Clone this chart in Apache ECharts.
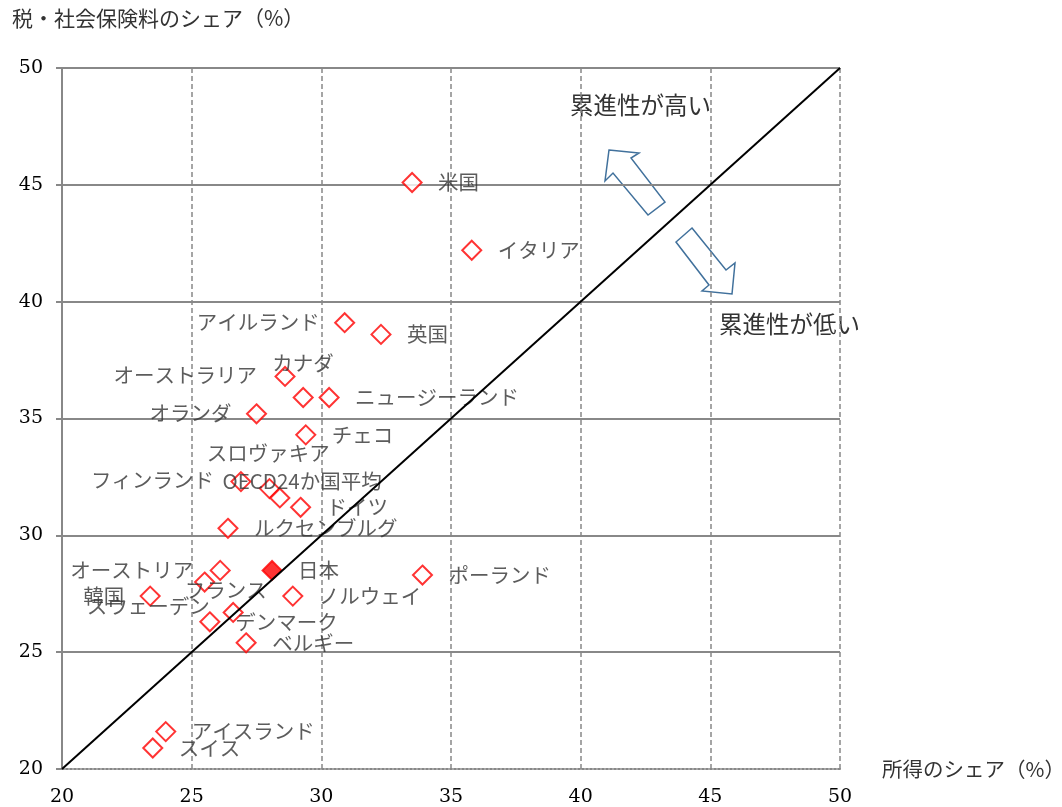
<!DOCTYPE html>
<html>
<head>
<meta charset="utf-8">
<script src="https://cdn.jsdelivr.net/npm/echarts@6/dist/echarts.min.js"></script>
<style>
  html, body { margin: 0; padding: 0; background: #fff; }
  #main { width: 1062px; height: 807px; }
</style>
</head>
<body>
<div id="main"></div>
<script>
// 国名
var countries = ['米国', 'イタリア', 'アイルランド', '英国', 'オーストラリア', 'カナダ', 'ニュージーランド', 'オランダ', 'チェコ',
  'フィンランド', 'OECD24か国平均', 'スロヴァキア', 'ドイツ', 'ルクセンブルグ', 'オーストリア', '日本', 'ポーランド',
  'フランス', '韓国', 'ノルウェイ', 'デンマーク', 'スウェーデン', 'ベルギー', 'アイスランド', 'スイス'];
// 所得のシェア（%）
var incomeShare = [33.5, 35.8, 30.9, 32.3, 28.6, 29.3, 30.3, 27.5, 29.4,
  26.9, 28.0, 28.4, 29.2, 26.4, 26.1, 28.1, 33.9,
  25.5, 23.4, 28.9, 26.6, 25.7, 27.1, 24.0, 23.5];
// 税・社会保険料のシェア（%）
var taxShare = [45.1, 42.2, 39.1, 38.6, 36.8, 35.9, 35.9, 35.2, 34.3,
  32.3, 32.0, 31.6, 31.2, 30.3, 28.5, 28.5, 28.3,
  28.0, 27.4, 27.4, 26.7, 26.3, 25.4, 21.6, 20.9];
var axisTicks = [20, 25, 30, 35, 40, 45, 50];
var highlight = '日本';

// ラベルの位置（align, dx, dy）
var labelLayout = {
  'アイルランド': ['right', -25, 0], 'オーストラリア': ['right', -28, -1], 'カナダ': ['left', -31, -34],
  'オランダ': ['right', -25, -1], 'フィンランド': ['right', -27, -1], 'OECD24か国平均': ['left', -47, -7],
  'スロヴァキア': ['left', -73, -45], 'オーストリア': ['right', -27, 0], 'フランス': ['left', -20, 8],
  '韓国': ['right', -26, 0], 'デンマーク': ['left', 2, 10], 'スウェーデン': ['right', 0, -16]
};

var jp = '"Noto Sans CJK JP", sans-serif';
var points = countries.map(function (name, i) {
  var lay = labelLayout[name] || ['left', 26, 0];
  var item = {
    name: name,
    value: [incomeShare[i], taxShare[i]],
    label: { align: lay[0], offset: [lay[1], lay[2]] }
  };
  if (name === highlight) {
    item.itemStyle = { color: '#ff0000' };
  }
  return item;
});

var chart = echarts.init(document.getElementById('main'));
chart.setOption({
  animation: false,
  backgroundColor: '#fff',
  grid: { left: 62, right: 222, top: 68, bottom: 38, containLabel: false, outerBoundsMode: 'none' },
  xAxis: {
    type: 'value', min: axisTicks[0], max: axisTicks[axisTicks.length - 1], interval: 5,
    name: '所得のシェア（%）', nameLocation: 'end', nameGap: 42,
    nameTextStyle: { fontFamily: jp, fontSize: 20.5, color: '#333', verticalAlign: 'middle' },
    axisLine: { show: true, lineStyle: { color: '#888', width: 2, type: [2, 2] } },
    axisTick: { show: false },
    axisLabel: { margin: 19, fontFamily: '"DejaVu Serif", serif', fontSize: 19, color: '#000' },
    splitLine: { show: true, showMinLine: false, lineStyle: { color: '#888', width: 1.5, type: [5, 3] } }
  },
  yAxis: {
    type: 'value', min: axisTicks[0], max: axisTicks[axisTicks.length - 1], interval: 5,
    axisLine: { show: true, lineStyle: { color: '#888', width: 2 } },
    axisTick: { show: true, length: 6, lineStyle: { color: '#888', width: 2 } },
    axisLabel: { margin: 19, fontFamily: '"DejaVu Serif", serif', fontSize: 19, color: '#000' },
    splitLine: { show: true, showMinLine: false, lineStyle: { color: '#888', width: 2 } }
  },
  series: [
    {
      type: 'scatter',
      symbol: 'diamond',
      symbolSize: 19,
      itemStyle: { color: '#fff', borderColor: '#ff0000', borderWidth: 2 },
      label: {
        show: true, position: 'inside', formatter: '{b}',
        fontFamily: jp, fontSize: 20.5, color: '#333', verticalAlign: 'middle'
      },
      data: points,
      z: 3
    },
    {
      type: 'line',
      data: [[axisTicks[0], axisTicks[0]], [axisTicks[axisTicks.length - 1], axisTicks[axisTicks.length - 1]]],
      symbol: 'none',
      lineStyle: { color: '#000', width: 2 },
      z: 4
    }
  ],
  graphic: [
    { type: 'text', left: 12, top: 8, style: { text: '税・社会保険料のシェア（%）', font: '21px "Noto Sans CJK JP"', fill: '#333' } },
    { type: 'text', left: 570, top: 93, style: { text: '累進性が高い', font: '23.5px "Noto Sans CJK JP"', fill: '#333' } },
    { type: 'text', left: 719, top: 312, style: { text: '累進性が低い', font: '23.5px "Noto Sans CJK JP"', fill: '#333' } },
    {
      type: 'polygon',
      shape: { points: [[609, 150], [639, 153], [631, 158], [665, 202], [648, 215], [613, 173], [605, 181]] },
      style: { fill: '#fff', stroke: '#41719c', lineWidth: 1.5 }
    },
    {
      type: 'polygon',
      shape: { points: [[692, 228], [726, 270], [735, 263], [732, 294], [702, 291], [709, 285], [676, 242]] },
      style: { fill: '#fff', stroke: '#41719c', lineWidth: 1.5 }
    }
  ]
});
</script>
</body>
</html>
